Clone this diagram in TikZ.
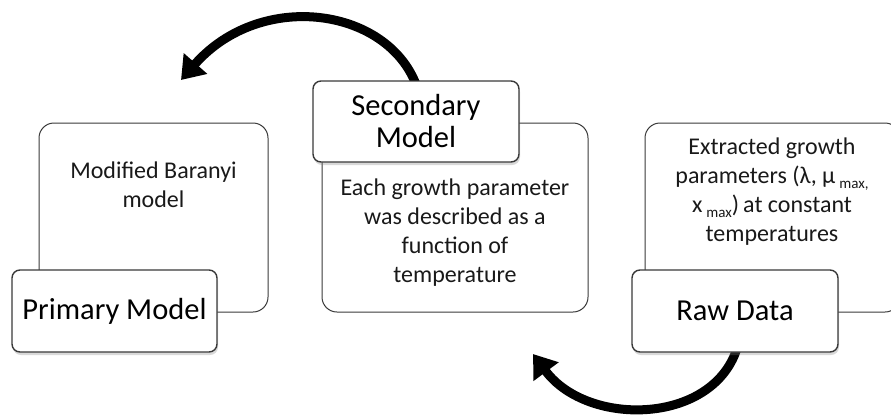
\documentclass[tikz,border=0pt]{standalone}
\usepackage{fontspec}
\setmainfont{Carlito}
\usetikzlibrary{arrows.meta,shadows}
\definecolor{boxline}{HTML}{3A3A3A}
\tikzset{
  bigbox/.style={draw=boxline, line width=1pt, rounded corners=15pt, fill=white, inner sep=0pt},
  smallbox/.style={draw=boxline, line width=1.4pt, rounded corners=8pt, fill=white, inner sep=0pt,
    drop shadow={shadow xshift=1pt, shadow yshift=-3pt, opacity=0.3}},
  titletext/.style={font=\fontsize{30.5}{32}\selectfont, align=center, inner sep=0pt},
  desctext/.style={font=\fontsize{24}{29}\selectfont, align=center, inner sep=0pt, text=black!90},
  bigarrow/.style={line width=9pt, -{Triangle[length=22pt, width=30pt]}},
}
\begin{document}
\begin{tikzpicture}[x=1pt, y=-1pt]
\useasboundingbox (0,0) rectangle (891,416);
% arrows (drawn first so boxes cover their starts)
\coordinate (a1s) at (418,90);
\coordinate (a1e) at (181,80);
\coordinate (a2s) at (738,345);
\coordinate (a2e) at (533,354);
\draw[bigarrow] (a1s) .. controls (392,8) and (262,-12) .. (a1e);
\draw[bigarrow] (a2s) .. controls (716,425) and (588,428) .. (a2e);
% left
\node[bigbox, minimum width=229pt, minimum height=189pt] (big1) at (153.5,217.5) {};
\node[desctext] (d1) at (153.5,185) {Modified Baranyi\\model};
\node[smallbox, minimum width=205pt, minimum height=82pt] (prim) at (114.5,311) {};
\node[titletext] at (prim.center) {Primary Model};
% middle
\node[bigbox, minimum width=266pt, minimum height=189pt] (big2) at (455,217.5) {};
\node[desctext] (d2) at (455,233) {Each growth parameter\\was described as a\\function of\\temperature};
\node[smallbox, minimum width=206pt, minimum height=81pt] (sec) at (416,121.5) {};
\node[titletext] at (sec.center) {Secondary\\Model};
% right
\node[bigbox, minimum width=255pt, minimum height=189pt] (big3) at (772.5,217.5) {};
\node[desctext] (d3) at (772,192) {Extracted growth\\parameters (λ, μ\,\raisebox{-5pt}{\fontsize{15}{15}\selectfont max,}\\x\,\raisebox{-5pt}{\fontsize{15}{15}\selectfont max})\,at constant\\temperatures};
\node[smallbox, minimum width=206pt, minimum height=82pt] (raw) at (735,311) {};
\node[titletext] at (raw.center) {Raw Data};
\end{tikzpicture}
\end{document}
